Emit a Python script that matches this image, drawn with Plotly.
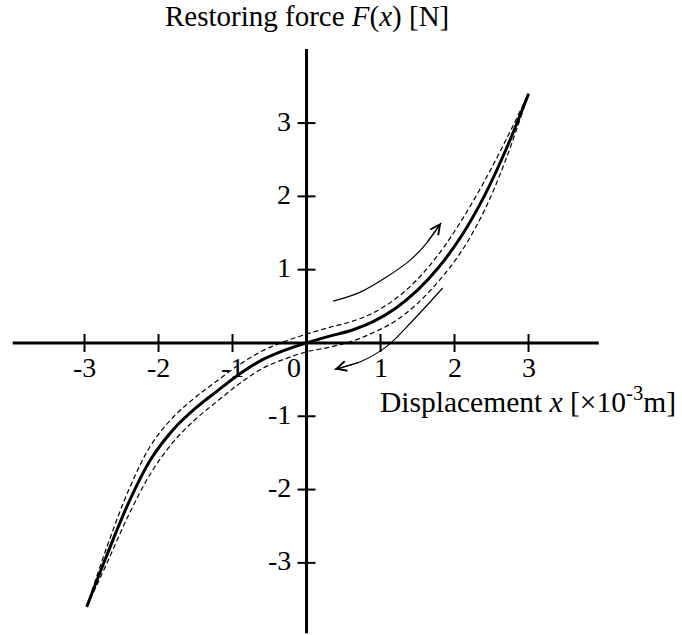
import plotly.graph_objects as go

# restoring force curve (x in 1e-3 m, F in N)
force_x = [-2.97, -2.7, -2.4, -2.1, -1.8, -1.5, -1.2, -0.9, -0.6, -0.3, 0.0,
           0.3, 0.6, 0.9, 1.2, 1.5, 1.8, 2.1, 2.4, 2.7, 3.0]
force_y = [-3.60, -2.90, -2.17, -1.58, -1.18, -0.89, -0.65, -0.42, -0.23, -0.10, 0.0,
           0.09, 0.17, 0.29, 0.47, 0.72, 1.05, 1.47, 2.00, 2.65, 3.40]

# dashed branches either side of the mean curve
upper_y = [-3.60, -2.79, -2.00, -1.39, -1.01, -0.74, -0.51, -0.29, -0.11, 0.02, 0.12,
           0.21, 0.29, 0.41, 0.60, 0.87, 1.23, 1.68, 2.20, 2.78, 3.40]
lower_y = [-3.60, -3.01, -2.34, -1.77, -1.35, -1.04, -0.79, -0.55, -0.35, -0.22, -0.12,
           -0.06, 0.02, 0.14, 0.30, 0.54, 0.86, 1.26, 1.80, 2.52, 3.40]

# direction arrows
arrow_up_x = [0.36, 0.72, 1.08, 1.39, 1.62, 1.82]
arrow_up_y = [0.57, 0.69, 0.90, 1.12, 1.36, 1.64]
arrow_down_x = [1.84, 1.44, 1.08, 0.72, 0.38]
arrow_down_y = [0.75, 0.31, -0.05, -0.26, -0.36]

tick_vals = [-3, -2, -1, 1, 2, 3]
x_axis_lim = (-3.97, 3.95)
y_axis_lim = (-3.96, 4.01)

SERIF = "Liberation Serif, Times New Roman, serif"
TXT = dict(family=SERIF, size=28, color="black")

fig = go.Figure()

for yy in (upper_y, lower_y):
    fig.add_trace(go.Scatter(x=force_x, y=yy, mode="lines",
                             line=dict(color="black", width=1.2, dash="5px,3px", shape="spline")))
fig.add_trace(go.Scatter(x=force_x, y=force_y, mode="lines",
                         line=dict(color="black", width=3, shape="spline")))
for ax_, ay_ in [(arrow_up_x, arrow_up_y), (arrow_down_x, arrow_down_y)]:
    fig.add_trace(go.Scatter(x=ax_, y=ay_, mode="lines",
                             line=dict(color="black", width=1.2, shape="spline")))
    fig.add_annotation(x=ax_[-1], y=ay_[-1], ax=ax_[-2], ay=ay_[-2],
                       xref="x", yref="y", axref="x", ayref="y", text="",
                       showarrow=True, arrowhead=5, arrowsize=1.6, arrowwidth=1.2,
                       arrowcolor="black")

# axes through the origin
fig.add_shape(type="line", x0=x_axis_lim[0], x1=x_axis_lim[1], y0=0, y1=0,
              line=dict(color="black", width=3))
fig.add_shape(type="line", x0=0, x1=0, y0=y_axis_lim[0], y1=y_axis_lim[1],
              line=dict(color="black", width=3))
for t in tick_vals:
    fig.add_shape(type="line", x0=t, x1=t, ysizemode="pixel", yanchor=0, y0=-9, y1=9,
                  line=dict(color="black", width=2))
    fig.add_shape(type="line", y0=t, y1=t, xsizemode="pixel", xanchor=0, x0=-9, x1=9,
                  line=dict(color="black", width=2))
    fig.add_annotation(x=t, y=0, text=f"{t}", showarrow=False, xanchor="center",
                       yanchor="top", yshift=-7, font=TXT)
    fig.add_annotation(x=0, y=t, text=f"{t}", showarrow=False, xanchor="right",
                       yanchor="middle", xshift=-14, yshift=2, font=TXT)
fig.add_annotation(x=0, y=0, text="0", showarrow=False, xanchor="center",
                   yanchor="top", xshift=-13, yshift=-7, font=TXT)

fig.add_annotation(x=0, y=4.46, text="Restoring force <i>F</i>(<i>x</i>) [N]",
                   showarrow=False, xanchor="center", yanchor="middle",
                   font=dict(family=SERIF, size=29, color="black"))
fig.add_annotation(x=0.966, y=-0.78, text="Displacement <i>x</i> [×10<sup>-3</sup>m]",
                   showarrow=False, xanchor="left", yanchor="middle",
                   font=dict(family=SERIF, size=29.5, color="black"))

fig.update_layout(
    width=682, height=635, margin=dict(l=0, r=0, t=0, b=0),
    paper_bgcolor="white", plot_bgcolor="white", showlegend=False,
    xaxis=dict(range=[-4.142, 5.074], visible=False, fixedrange=True),
    yaxis=dict(range=[-3.984, 4.679], visible=False, fixedrange=True),
)

# drop the default 8px page margin so the figure fills the window
fig.write_html("out.html", config={"displayModeBar": False},
               post_script="document.body.style.margin = '0';")
